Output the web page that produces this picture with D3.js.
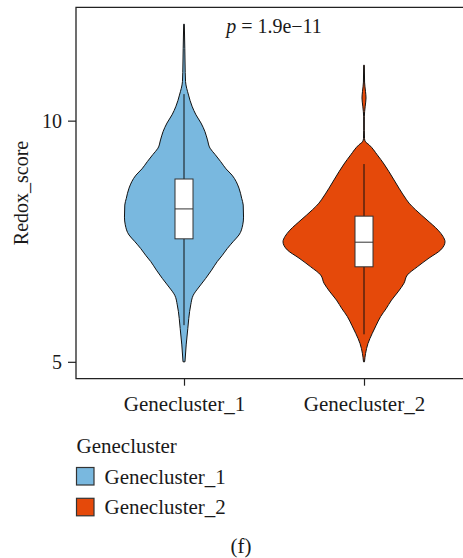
<!DOCTYPE html>
<html>
<head>
<meta charset="utf-8">
<script src="https://cdn.jsdelivr.net/npm/d3@7"></script>
<style>
  html, body { margin: 0; padding: 0; background: #fff; }
  svg { display: block; }
  text { font-family: "Liberation Serif", "Times New Roman", serif; fill: #1a1a1a; }
</style>
</head>
<body>
<svg id="chart" width="463" height="558"></svg>
<script>
// Groups and colours
const categories = ["Genecluster_1", "Genecluster_2"];
const colors = ["#79B8DF", "#E5490A"];

// Kernel density outline per group: score value and relative density (1 = widest)
const densityValues1 = [12.0, 11.5, 11.0, 10.81, 10.53, 10.3, 10.12, 9.95, 9.77, 9.6, 9.43, 9.3, 9.15, 9.0, 8.87, 8.6, 8.39, 8.25, 8.0, 7.84, 7.63, 7.5, 7.35, 7.2, 7.08, 6.9, 6.73, 6.55, 6.38, 6.18, 5.9, 5.69, 5.35, 5.0];
const densityWidths1 = [0.004, 0.010, 0.015, 0.019, 0.056, 0.099, 0.148, 0.210, 0.259, 0.290, 0.321, 0.383, 0.453, 0.519, 0.593, 0.679, 0.712, 0.731, 0.735, 0.725, 0.679, 0.611, 0.535, 0.469, 0.411, 0.340, 0.268, 0.185, 0.114, 0.083, 0.059, 0.047, 0.027, 0.012];

const densityValues2 = [11.15, 10.8, 10.6, 10.47, 10.3, 10.08, 9.8, 9.63, 9.56, 9.5, 9.29, 9.1, 8.94, 8.6, 8.36, 8.29, 8.15, 7.94, 7.73, 7.6, 7.49, 7.32, 7.15, 6.97, 6.8, 6.63, 6.45, 6.28, 6.1, 5.94, 5.75, 5.59, 5.38, 5.17, 5.0];
const densityWidths2 = [0.004, 0.007, 0.019, 0.025, 0.015, 0.004, 0.004, 0.006, 0.019, 0.062, 0.164, 0.247, 0.309, 0.432, 0.525, 0.556, 0.638, 0.778, 0.914, 0.975, 1.0, 0.947, 0.802, 0.658, 0.535, 0.494, 0.420, 0.340, 0.272, 0.206, 0.148, 0.102, 0.049, 0.019, 0.006];

// Box plot statistics: [whisker low, Q1, median, Q3, whisker high]
const boxStats1 = [5.76, 7.55, 8.17, 8.79, 10.55];
const boxStats2 = [5.57, 6.97, 7.48, 8.02, 9.10];

const yTicks = [5, 10];
const pLabel = "1.9e\u221211";
const yTitle = "Redox_score";
const legendTitle = "Genecluster";
const panelTag = "(f)";

const groups = [
  { name: categories[0], color: colors[0], values: densityValues1, widths: densityWidths1, box: boxStats1 },
  { name: categories[1], color: colors[1], values: densityValues2, widths: densityWidths2, box: boxStats2 }
];

const svg = d3.select("#chart");
const panel = { left: 76, top: 7.3, bottom: 378.7 };

// Data range 5..12 padded by 5% on each side
const yMin = 5, yMax = 12, pad = (yMax - yMin) * 0.05;
const y = d3.scaleLinear().domain([yMin - pad, yMax + pad]).range([panel.bottom, panel.top]);
// Discrete x positions 1..n with 0.6 units of padding
const unit = 180;
const x = d3.scaleLinear().domain([0.4, 2.6]).range([panel.left, panel.left + 2.2 * unit]);
// Violin half-width: widest density spans 0.45 units
const w = d3.scaleLinear().domain([0, 1]).range([0, 0.45 * unit]);
const boxHalf = 0.05 * unit;

const plot = svg.append("g");

groups.forEach((g, i) => {
  const cx = x(i + 1);
  const pts = g.values.map((v, k) => ({ v, d: g.widths[k] }));
  const area = d3.area()
    .y(d => y(d.v))
    .x0(d => cx - w(d.d))
    .x1(d => cx + w(d.d))
    .curve(d3.curveMonotoneY);
  plot.append("path")
    .datum(pts.slice().reverse())
    .attr("d", area)
    .attr("fill", g.color)
    .attr("stroke", "#111")
    .attr("stroke-width", 1);

  const [lo, q1, med, q3, hi] = g.box;
  plot.append("line")
    .attr("x1", cx).attr("x2", cx)
    .attr("y1", y(hi)).attr("y2", y(q3))
    .attr("stroke", "#111").attr("stroke-width", 1);
  plot.append("line")
    .attr("x1", cx).attr("x2", cx)
    .attr("y1", y(q1)).attr("y2", y(lo))
    .attr("stroke", "#111").attr("stroke-width", 1);
  plot.append("rect")
    .attr("x", cx - boxHalf).attr("width", 2 * boxHalf)
    .attr("y", y(q3)).attr("height", y(q1) - y(q3))
    .attr("fill", "#fff").attr("stroke", "#333").attr("stroke-width", 1);
  plot.append("line")
    .attr("x1", cx - boxHalf).attr("x2", cx + boxHalf)
    .attr("y1", y(med)).attr("y2", y(med))
    .attr("stroke", "#333").attr("stroke-width", 1);
});

// Panel border (top, left, bottom)
const right = x(2.6);
svg.append("path")
  .attr("d", `M${right},${panel.top}H${panel.left}V${panel.bottom}H${right}`)
  .attr("fill", "none").attr("stroke", "#222").attr("stroke-width", 1.3);

// Axes
const yAxis = svg.append("g")
  .attr("transform", `translate(${panel.left},0)`)
  .call(d3.axisLeft(y).tickValues(yTicks).tickSize(8).tickPadding(6));
const xAxis = svg.append("g")
  .attr("transform", `translate(0,${panel.bottom})`)
  .call(d3.axisBottom(x).tickValues([1, 2]).tickFormat(d => categories[d - 1]).tickSize(7).tickPadding(10));
[yAxis, xAxis].forEach(a => {
  a.select(".domain").remove();
  a.selectAll(".tick line").attr("stroke", "#222").attr("stroke-width", 1.2);
  a.selectAll(".tick text").attr("fill", "#1a1a1a")
    .style("font-family", "'Liberation Serif', serif");
});
yAxis.selectAll(".tick text").attr("font-size", 20);
xAxis.selectAll(".tick text").attr("font-size", 21);

// Y title
svg.append("text")
  .attr("transform", `translate(28,${(panel.top + panel.bottom) / 2}) rotate(-90)`)
  .attr("text-anchor", "middle")
  .attr("font-size", 20)
  .text(yTitle);

// Significance label
const pText = svg.append("text")
  .attr("x", (x(1) + x(2)) / 2)
  .attr("y", 33)
  .attr("text-anchor", "middle")
  .attr("font-size", 20);
pText.append("tspan").attr("font-style", "italic").text("p");
pText.append("tspan").text(" = " + pLabel);

// Legend
const legend = svg.append("g");
legend.append("text").attr("x", 76.5).attr("y", 453).attr("font-size", 21).text(legendTitle);
groups.forEach((g, i) => {
  const top = 467.5 + i * 30.8;
  legend.append("rect")
    .attr("x", 76.5).attr("y", top).attr("width", 17.5).attr("height", 17.5)
    .attr("fill", g.color).attr("stroke", "#333").attr("stroke-width", 1.2);
  legend.append("text")
    .attr("x", 104.5).attr("y", top + 16)
    .attr("font-size", 21)
    .text(g.name);
});

// Panel tag
svg.append("text")
  .attr("x", 241).attr("y", 553)
  .attr("text-anchor", "middle")
  .attr("font-size", 21)
  .text(panelTag);
</script>
</body>
</html>
